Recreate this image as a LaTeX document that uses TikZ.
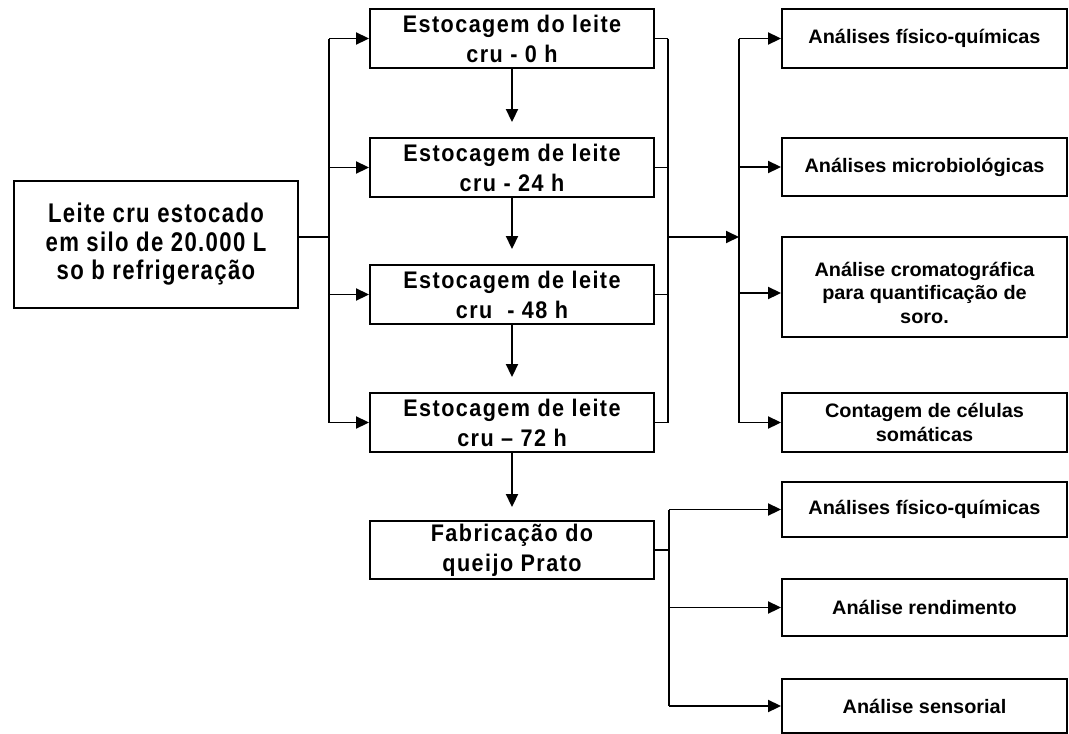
\documentclass[tikz,border=0pt]{standalone}
\usepackage{fontspec}
\setmainfont{Liberation Sans}
\newfontfamily\leftf[FakeStretch=0.82,LetterSpace=5]{Liberation Sans}
\newfontfamily\stagef[FakeStretch=0.9,LetterSpace=6]{Liberation Sans}
\newfontfamily\anaf[FakeStretch=1.02]{Liberation Sans}
\usetikzlibrary{arrows.meta}
\tikzset{
  box/.style={draw, line width=1.9pt, rectangle, inner sep=0pt, align=center},
  leftbox/.style={box, minimum width=284pt, minimum height=127pt, font=\leftf\bfseries\fontsize{27}{28.5}\selectfont},
  stagebox/.style={box, minimum width=284pt, minimum height=59pt, font=\stagef\bfseries\fontsize{24}{30}\selectfont},
  anabox/.style={box, minimum width=285pt, font=\anaf\bfseries\fontsize{19.5}{23.5}\selectfont},
  arr/.style={-{Triangle[length=13pt,width=12pt]}, line width=1.9pt},
  ln/.style={line width=1.9pt}
}
\begin{document}
\begin{tikzpicture}[x=1pt,y=-1pt]
\useasboundingbox[fill=white] (0,0) rectangle (1069,734);
% left box
\node[leftbox] (leite) at (156,244.5) {Leite cru estocado\\em silo de 20.000 L\\so b refrigeração};
% stage boxes
\node[stagebox] (s1) at (512,38.5) {Estocagem do leite\\cru - 0 h};
\node[stagebox] (s2) at (512,167.5) {Estocagem de leite\\cru - 24 h};
\node[stagebox] (s3) at (512,294.5) {Estocagem de leite\\cru\ \ - 48 h};
\node[stagebox] (s4) at (512,422.5) {Estocagem de leite\\cru – 72 h};
\node[stagebox, minimum height=58pt] (fab) at (512,550) {Fabricação do\\queijo Prato};
% analysis boxes
\node[anabox, minimum height=59pt] (a1) at (924.5,38.5) {Análises físico-químicas};
\node[anabox, minimum height=58pt] (a2) at (924.5,167) {Análises microbiológicas};
\node[anabox, minimum height=100pt] (a3) at (924.5,287) {\rule{0pt}{26pt}Análise cromatográfica\\para quantificação de\\soro.};
\node[anabox, minimum height=59pt, font=\anaf\bfseries\fontsize{19.5}{24}\selectfont] (a4) at (924.5,422.5) {Contagem de células\\somáticas};
\node[anabox, minimum height=55pt] (b1) at (924.5,509.5) {Análises físico-químicas};
\node[anabox, minimum height=57pt] (b2) at (924.5,607.5) {Análise rendimento};
\node[anabox, minimum height=54pt] (b3) at (924.5,706) {Análise sensorial};
% coordinates of buses
\coordinate (bl) at (329,237);
\coordinate (bm) at (668,237);
\coordinate (br) at (739,237);
\coordinate (a3in) at (739,293);
\coordinate (bb) at (669,550);
% left bus
\draw[ln] (leite.east |- bl) -- (bl);
\draw[ln] (bl |- s1.west) -- (bl |- s4.west);
\draw[arr] (bl |- s1.west) -- (s1.west);
\draw[arr] (bl |- s2.west) -- (s2.west);
\draw[arr] (bl |- s3.west) -- (s3.west);
\draw[arr] (bl |- s4.west) -- (s4.west);
% vertical arrows
\draw[arr] (s1.south) -- ([yshift=15pt]s2.north);
\draw[arr] (s2.south) -- ([yshift=15pt]s3.north);
\draw[arr] (s3.south) -- ([yshift=15pt]s4.north);
\draw[arr] (s4.south) -- ([yshift=13pt]fab.north);
% middle bus
\draw[ln] (s1.east) -- (bm |- s1.east);
\draw[ln] (s2.east) -- (bm |- s2.east);
\draw[ln] (s3.east) -- (bm |- s3.east);
\draw[ln] (s4.east) -- (bm |- s4.east);
\draw[ln] (bm |- s1.east) -- (bm |- s4.east);
\draw[arr] (bm) -- (br);
% right bus
\draw[ln] (br |- a1.west) -- (br |- a4.west);
\draw[arr] (br |- a1.west) -- (a1.west);
\draw[arr] (br |- a2.west) -- (a2.west);
\draw[arr] (a3in) -- (a3.west |- a3in);
\draw[arr] (br |- a4.west) -- (a4.west);
% bottom bus
\draw[ln] (fab.east) -- (bb);
\draw[ln] (bb |- b1.west) -- (bb |- b3.west);
\draw[arr] (bb |- b1.west) -- (b1.west);
\draw[arr] (bb |- b2.west) -- (b2.west);
\draw[arr] (bb |- b3.west) -- (b3.west);
\end{tikzpicture}
\end{document}
